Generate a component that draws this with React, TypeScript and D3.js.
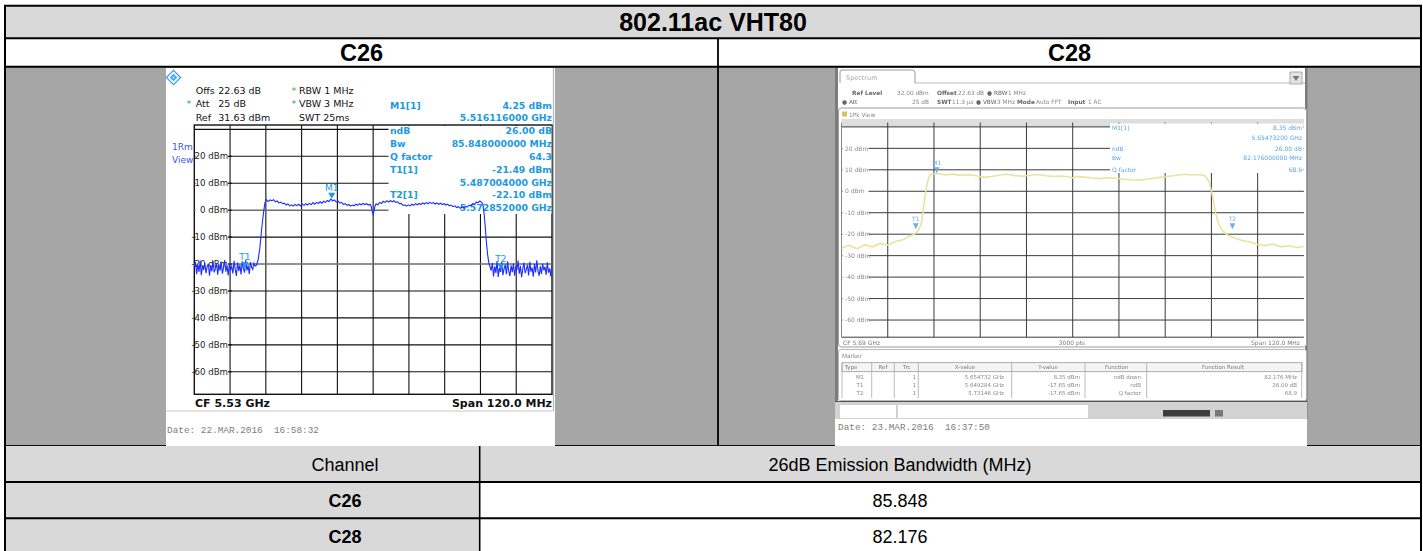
import React from 'react';
import * as d3 from 'd3';

// ---------- table text ----------
const tableTitle = '802.11ac VHT80';
const channels = ['C26', 'C28'];
const resultHeader = ['Channel', '26dB Emission Bandwidth (MHz)'];
const bandwidths = ['85.848', '82.176'];

// ---------- C26 screenshot (R&S FSV) ----------
const c26Ref = 31.63;
const c26GridLevels = [30, 20, 10, 0, -10, -20, -30, -40, -50, -60];
const c26LevelLabels = [20, 10, 0, -10, -20, -30, -40, -50, -60];
const gridFreqs = [-48, -36, -24, -12, 0, 12, 24, 36, 48];
const c26Setup = [
  { star: false, label: 'Offs', value: '22.63 dB' },
  { star: true, label: 'Att', value: '25 dB' },
  { star: false, label: 'Ref', value: '31.63 dBm' },
];
const c26Sweep = [
  { star: true, text: 'RBW 1 MHz' },
  { star: true, text: 'VBW 3 MHz' },
  { star: false, text: 'SWT 25ms' },
];
const c26InfoLabels = ['M1[1]', '', 'ndB', 'Bw', 'Q factor', 'T1[1]', '', 'T2[1]', ''];
const c26InfoValues = ['4.25 dBm', '5.516116000 GHz', '26.00 dB', '85.848000000 MHz', '64.3', '-21.49 dBm', '5.487004000 GHz', '-22.10 dBm', '5.572852000 GHz'];
const c26Markers = [
  { name: 'M1', f: -13.884, level: 4.25 },
  { name: 'T1', f: -42.996, level: -21.49 },
  { name: 'T2', f: 42.852, level: -22.1 },
];
// noise floor samples (dBm), left skirt -60..-39.6 MHz, right skirt 39.6..60 MHz
const c26NoiseLeft = [-21.5, -19.2, -23.8, -20.1, -22.9, -18.7, -24.1, -20.6, -22.2, -19.5, -23.4, -21.0, -19.9, -24.3, -20.4, -22.7, -18.9, -23.1, -21.8, -19.6, -24.0, -20.2, -22.5, -19.1, -23.6, -21.3, -18.5, -22.8, -20.7, -24.2, -19.8, -22.1, -20.9, -23.5, -18.8, -21.9, -24.4, -19.4, -22.6, -20.3, -23.9, -19.0, -21.6, -23.2, -18.4, -22.4, -20.5, -23.7, -19.3, -21.2, -22.0, -19.7, -20.8];
const c26NoiseRight = [-22.4, -19.6, -24.6, -20.9, -23.3, -18.9, -24.8, -21.4, -22.9, -19.3, -24.1, -21.7, -20.2, -23.8, -19.0, -22.6, -24.5, -20.5, -23.0, -19.8, -24.3, -21.1, -22.2, -18.7, -23.6, -20.7, -24.9, -21.9, -19.5, -23.4, -22.0, -20.3, -24.2, -19.2, -22.8, -21.3, -24.7, -20.0, -23.1, -18.6, -22.5, -24.4, -20.8, -23.7, -19.9, -22.3, -21.0, -24.0, -19.4, -23.2, -21.6, -24.6, -20.6];
// occupied band [offset MHz, dBm]
const c26Band: [number, number][] = [
  [-39.2, -20.5], [-38.6, -18.5], [-38.0, -14], [-37.5, -8], [-37.0, -3], [-36.6, 0.5], [-36.3, 2.8], [-35.8, 3.9], [-35.2, 3.2], [-34.6, 3.8], [-34.0, 3.5], [-33.4, 3.9], [-32.8, 3.1], [-32.2, 3.4], [-31.6, 2.7], [-31.0, 3.0], [-30.4, 2.4], [-29.8, 2.6], [-29.2, 1.9], [-28.6, 2.3], [-28.0, 1.6], [-27.4, 2.0], [-26.8, 1.5], [-26.2, 2.1], [-25.6, 1.7], [-25.0, 2.2], [-24.4, 1.6], [-23.8, 2.3], [-23.2, 1.8], [-22.6, 2.4], [-22.0, 1.9], [-21.4, 2.6], [-20.8, 2.0], [-20.2, 2.8], [-19.6, 2.2], [-19.0, 2.9], [-18.4, 2.5], [-17.8, 3.1], [-17.2, 2.6], [-16.6, 3.3], [-16.0, 2.9], [-15.4, 3.6], [-14.8, 3.2], [-14.2, 4.1], [-13.6, 3.5], [-13.0, 3.8], [-12.4, 3.0], [-11.8, 3.4], [-11.2, 2.6], [-10.6, 2.9], [-10.0, 2.2], [-9.4, 2.4], [-8.8, 1.8], [-8.2, 2.1], [-7.6, 1.5], [-7.0, 1.9], [-6.4, 1.6], [-5.8, 2.2], [-5.2, 1.8], [-4.6, 2.4], [-4.0, 2.0], [-3.4, 2.5], [-2.8, 2.1], [-2.2, 2.4], [-1.6, 1.9], [-1.0, 2.2], [-0.6, 1.2], [-0.3, -0.5], [0.0, -1.6], [0.3, -0.3], [0.6, 1.5], [1.0, 2.4], [1.6, 2.0], [2.2, 2.9], [2.8, 2.5], [3.4, 3.3], [4.0, 2.9], [4.6, 3.5], [5.2, 3.0], [5.8, 3.6], [6.4, 3.1], [7.0, 3.5], [7.6, 2.9], [8.2, 3.1], [8.8, 2.4], [9.4, 2.5], [10.0, 1.8], [10.6, 1.9], [11.2, 1.5], [11.8, 2.0], [12.4, 1.6], [13.0, 2.2], [13.6, 1.8], [14.2, 2.4], [14.8, 2.0], [15.4, 2.5], [16.0, 2.1], [16.6, 2.7], [17.2, 2.3], [17.8, 2.8], [18.4, 2.4], [19.0, 2.9], [19.6, 2.5], [20.2, 2.8], [20.8, 2.3], [21.4, 2.7], [22.0, 2.2], [22.6, 2.6], [23.2, 2.1], [23.8, 2.4], [24.4, 1.9], [25.0, 2.2], [25.6, 1.6], [26.2, 1.9], [26.8, 1.3], [27.4, 1.6], [28.0, 1.0], [28.6, 1.3], [29.2, 0.7], [29.8, 1.1], [30.4, 0.8], [31.0, 1.4], [31.6, 1.2], [32.2, 1.9], [32.8, 1.6], [33.4, 2.4], [34.0, 2.2], [34.6, 3.0], [35.2, 2.8], [35.8, 3.4], [36.4, 2.9], [36.8, 2.2], [37.2, -1], [37.6, -6], [38.0, -12], [38.4, -16.5], [38.8, -19.5], [39.2, -21.0],
];

// ---------- C28 screenshot (R&S FSW) ----------
const c28Ref = 32;
const c28LevelLabels = [20, 10, 0, -10, -20, -30, -40, -50, -60];
const c28Trace: [number, number][] = [
  [-60, -26.5], [-58, -25.2], [-56, -26.8], [-54, -25.0], [-52, -25.9], [-50, -24.3], [-48, -25.1], [-46, -23.4], [-44, -22.6], [-42.5, -21.0], [-41, -19.8], [-40, -18.2], [-39.2, -14.5], [-38.6, -6.0], [-38.0, 1.5], [-37.4, 6.2], [-36.8, 7.9], [-35, 8.3], [-33, 7.6], [-31, 8.0], [-29, 7.4], [-27, 7.7], [-25, 7.2], [-23, 6.5], [-21, 6.9], [-19, 7.6], [-17, 7.9], [-15, 7.3], [-13, 7.0], [-11, 7.5], [-9, 7.8], [-7, 7.2], [-5, 6.9], [-3, 7.1], [-1, 6.8], [0, 6.2], [1, 6.9], [3, 6.6], [5, 6.2], [7, 5.9], [9, 6.3], [11, 6.1], [13, 5.7], [15, 5.4], [17, 5.2], [19, 5.6], [21, 6.1], [23, 6.6], [25, 7.0], [27, 7.5], [29, 7.9], [31, 7.6], [33, 7.8], [34.5, 7.0], [35.5, 4.0], [36.3, -2.5], [37.0, -9.5], [37.8, -15.0], [38.8, -18.3], [40, -20.2], [42, -21.8], [44, -22.9], [46, -23.6], [48, -24.8], [50, -25.3], [52, -24.6], [54, -25.9], [56, -25.4], [58, -26.2], [60, -25.7],
];
const c28Markers = [
  { name: 'M1', f: -35.268, level: 8.35 },
  { name: 'T1', f: -40.716, level: -17.65 },
  { name: 'T2', f: 41.46, level: -17.65 },
];
const c28InfoLabels = ['M1[1]', '', 'ndB', 'Bw', 'Q factor'];
const c28InfoValues = ['8.35 dBm', '5.65473200 GHz', '26.00 dB', '82.176000000 MHz', '68.9'];
const c28TableHead = ['Type', 'Ref', 'Trc', 'X-value', 'Y-value', 'Function', 'Function Result'];
const c28TableRows = [
  ['M1', '', '1', '5.654732 GHz', '8.35 dBm', 'ndB down', '82.176 MHz'],
  ['T1', '', '1', '5.649284 GHz', '-17.65 dBm', 'ndB', '26.00 dB'],
  ['T2', '', '1', '5.73146 GHz', '-17.65 dBm', 'Q factor', '68.9'],
];

const SANS = '"Liberation Sans", Arial, sans-serif';
const RS = '"DejaVu Sans", Verdana, sans-serif';
const MONO = '"Liberation Mono", "DejaVu Sans Mono", monospace';
const MK = '#2199e0';

const P26 = { left: 194.3, right: 552, top: 125, bottom: 394.3 };
const P28 = { left: 841.5, right: 1303.9, top: 122.6, bottom: 337.2 };

function tri(x: number, y: number, s = 3.5) {
  return `M${x - s},${y - 6} L${x + s},${y - 6} L${x},${y} Z`;
}

function C26Panel() {
  const x = d3.scaleLinear().domain([-60, 60]).range([P26.left, P26.right]);
  const y = d3.scaleLinear().domain([c26Ref - 100, c26Ref]).range([P26.bottom, P26.top]);
  const li = d3.scaleLinear().domain([0, c26NoiseLeft.length - 1]).range([-60, -39.6]);
  const ri = d3.scaleLinear().domain([0, c26NoiseRight.length - 1]).range([39.6, 60]);
  const trace: [number, number][] = [
    ...c26NoiseLeft.map((v, i) => [li(i), v] as [number, number]),
    ...c26Band,
    ...c26NoiseRight.map((v, i) => [ri(i), v] as [number, number]),
  ];
  const line = d3.line<[number, number]>().x(d => x(d[0])).y(d => y(d[1]));
  const setupY = [94.2, 106.8, 121.2];
  const infoY = [105.5, 117.7, 130.7, 143.7, 156.5, 169.5, 182.3, 195, 207.5].map(v => v + 3.4);
  return (
    <g>
      <rect x={166} y={68} width={389} height={378} fill="#fff" />
      <line x1={553.5} y1={68} x2={553.5} y2={411} stroke="#b5b5b5" strokeWidth={1.2} />
      <line x1={166} y1={411} x2={553.5} y2={411} stroke="#c8c8c8" strokeWidth={1} />
      {/* logo */}
      <g transform="translate(173.5,77.5) rotate(45)" stroke="#39a3ea" fill="none" strokeWidth={1.3}>
        <rect x={-5} y={-5} width={10} height={10} />
        <rect x={-2} y={-2} width={4} height={4} fill="#8ccaf2" />
      </g>
      {/* setup text */}
      {c26Setup.map((s, i) => (
        <g key={s.label} fontFamily={RS} fontSize={9.5} fill="#111">
          {s.star && <text x={186.5} y={setupY[i]} fill="#22b14c">*</text>}
          <text x={195.7} y={setupY[i]}>{s.label}</text>
          <text x={218.3} y={setupY[i]}>{s.value}</text>
        </g>
      ))}
      {c26Sweep.map((s, i) => (
        <g key={s.text} fontFamily={RS} fontSize={9.5} fill="#111">
          {s.star && <text x={291.5} y={setupY[i]} fill="#22b14c">*</text>}
          <text x={299} y={setupY[i]}>{s.text}</text>
        </g>
      ))}
      <text x={172} y={150} fontFamily={RS} fontSize={9} fill="#3357ee">1Rm</text>
      <text x={172} y={162.6} fontFamily={RS} fontSize={9} fill="#3357ee">View</text>
      {/* grid */}
      <rect x={P26.left} y={P26.top} width={P26.right - P26.left} height={P26.bottom - P26.top} fill="none" stroke="#111" strokeWidth={1.4} />
      {gridFreqs.map(f => (
        <line key={f} x1={x(f)} x2={x(f)} y1={P26.top} y2={P26.bottom} stroke="#111" strokeWidth={1.1} />
      ))}
      {c26GridLevels.map(l => (
        <line key={l} x1={P26.left} x2={P26.right} y1={y(l)} y2={y(l)}
          stroke={l === 0 || l === -20 ? '#6e6e6e' : '#111'} strokeWidth={l === 0 || l === -20 ? 1.6 : 1.1} />
      ))}
      {c26LevelLabels.map(l => (
        <g key={l}>
          <rect x={195.5} y={y(l) - 5.5} width={33} height={11} fill="#fff" />
          <line x1={228} x2={232} y1={y(l)} y2={y(l)} stroke="#111" strokeWidth={1.1} />
          <text x={228} y={y(l) + 3.1} textAnchor="end" fontFamily={RS} fontSize={8.6} fill="#222">{`${l} dBm`}</text>
        </g>
      ))}
      {/* marker info box */}
      <rect x={388.5} y={126} width={163} height={88} fill="#fff" />
      {c26InfoLabels.map((t, i) => t && (
        <text key={t} x={390} y={infoY[i]} fontFamily={RS} fontWeight="bold" fontSize={9.3} fill={MK}>{t}</text>
      ))}
      {c26InfoValues.map((t, i) => (
        <text key={t} x={552} y={infoY[i]} textAnchor="end" fontFamily={RS} fontWeight="bold" fontSize={9.3} fill={MK}>{t}</text>
      ))}
      {/* trace */}
      <defs>
        <clipPath id="clip26"><rect x={P26.left} y={P26.top} width={P26.right - P26.left} height={P26.bottom - P26.top} /></clipPath>
      </defs>
      <path d={line(trace) || ''} fill="none" stroke="#1b2dff" strokeWidth={1.1} clipPath="url(#clip26)" />
      {c26Markers.map(m => (
        <g key={m.name}>
          <path d={tri(x(m.f), y(m.level))} fill={MK} />
          <text x={x(m.f)} y={y(m.level) - 8} textAnchor="middle" fontFamily={RS} fontSize={9} fill={MK}>{m.name}</text>
        </g>
      ))}
      <text x={195} y={407.3} fontFamily={RS} fontWeight="bold" fontSize={11} fill="#111">CF 5.53 GHz</text>
      <text x={552} y={407.3} textAnchor="end" fontFamily={RS} fontWeight="bold" fontSize={11} fill="#111">Span 120.0 MHz</text>
      <text x={167} y={432.6} fontFamily={MONO} fontSize={9.4} fill="#7d7d7d" style={{ whiteSpace: 'pre' }}>Date: 22.MAR.2016  16:58:32</text>
    </g>
  );
}

function C28Panel() {
  const x = d3.scaleLinear().domain([-60, 60]).range([P28.left, P28.right]);
  const y = d3.scaleLinear().domain([c28Ref - 100, c28Ref]).range([P28.bottom, P28.top]);
  const line = d3.line<[number, number]>().x(d => x(d[0])).y(d => y(d[1]));
  const colX = [842, 871.7, 894.3, 918.3, 1011.7, 1085, 1146.7, 1301.7];
  const headX = [851, 883, 906.7, 965, 1048, 1116.7, 1223];
  const rowY = [376.7, 385, 393.3];
  const infoY = [127.3, 137.3, 148.3, 157.3, 170];
  return (
    <g>
      <rect x={835} y={68} width={472} height={378} fill="#fff" />
      <defs>
        <filter id="soft" x="-5%" y="-5%" width="110%" height="110%">
          <feGaussianBlur stdDeviation={0.6} />
        </filter>
        <clipPath id="clip28"><rect x={P28.left} y={P28.top} width={P28.right - P28.left} height={P28.bottom - P28.top} /></clipPath>
      </defs>
      <g filter="url(#soft)">
        <rect x={835} y={68} width={3} height={351} fill="#7c7c7c" />
        <rect x={1305} y={68} width={2.5} height={351} fill="#7c7c7c" />
        {/* tab bar */}
        <path d="M840,83 L840,72 Q840,70 842,70 L912,70 Q915,70 915,73 L915,83" fill="#fff" stroke="#9a9a9a" strokeWidth={1} />
        <line x1={915} y1={83} x2={1305} y2={83} stroke="#b8b8b8" strokeWidth={1} />
        <text x={846} y={79.5} fontFamily={RS} fontSize={6.5} fill="#a8a8a8">Spectrum</text>
        <rect x={1290} y={72} width={12} height={12} fill="#e4e4e4" stroke="#999" strokeWidth={0.8} />
        <path d="M1292.5,76 L1299.5,76 L1296,81 Z" fill="#777" />
        {/* header */}
        <g fontFamily={RS} fontSize={5.8} fill="#888">
          <text x={852} y={94.7} fontWeight="bold" fill="#666">Ref Level</text>
          <text x={897} y={94.7}>32.00 dBm</text>
          <text x={937} y={94.7} fontWeight="bold" fill="#666">Offset</text>
          <text x={958} y={94.7}>22.63 dB</text>
          <text x={987} y={94.7} fill="#666">● RBW</text>
          <text x={1008} y={94.7}>1 MHz</text>
          <text x={842} y={103.7} fill="#666">● Att</text>
          <text x={912} y={103.7}>25 dB</text>
          <text x={937} y={103.7} fontWeight="bold" fill="#666">SWT</text>
          <text x={952} y={103.7}>11.3 µs</text>
          <text x={976} y={103.7} fill="#666">● VBW</text>
          <text x={997} y={103.7}>3 MHz</text>
          <text x={1017} y={103.7} fontWeight="bold" fill="#666">Mode</text>
          <text x={1036} y={103.7}>Auto FFT</text>
          <text x={1068} y={103.7} fontWeight="bold" fill="#666">Input</text>
          <text x={1088} y={103.7}>1 AC</text>
        </g>
        <rect x={838.5} y={108} width={468} height={239} rx={3} fill="#fff" stroke="#9c9c9c" strokeWidth={1} />
        <rect x={842} y={111.5} width={5} height={5} fill="#d6c55a" />
        <text x={849} y={117} fontFamily={RS} fontSize={5.8} fill="#888">1Pk View</text>
        <rect x={P28.left} y={119} width={P28.right - P28.left} height={8} fill="#dedede" />
        {/* grid */}
        {gridFreqs.map(f => (
          <line key={f} x1={x(f)} x2={x(f)} y1={P28.top} y2={P28.bottom} stroke="#3a3a3a" strokeWidth={1} />
        ))}
        {[30, ...c28LevelLabels].map(l => (
          <line key={l} x1={P28.left} x2={P28.right} y1={y(l)} y2={y(l)} stroke="#3a3a3a" strokeWidth={1} />
        ))}
        <line x1={P28.left} x2={P28.right} y1={P28.bottom} y2={P28.bottom} stroke="#3a3a3a" strokeWidth={1} />
        <line x1={P28.left} x2={P28.left} y1={P28.top} y2={P28.bottom} stroke="#888" strokeWidth={1} />
        {c28LevelLabels.map(l => (
          <g key={l}>
            <rect x={842.5} y={y(l) - 4} width={26} height={8} fill="#fff" />
            <text x={845} y={y(l) + 2.2} fontFamily={RS} fontSize={6} fill="#8a8a8a">{`${l} dBm`}</text>
          </g>
        ))}
        <rect x={1110} y={123.5} width={193.5} height={49.5} fill="#fff" />
        {c28InfoLabels.map((t, i) => t && (
          <text key={t} x={1112} y={infoY[i] + 2.2} fontFamily={RS} fontSize={6} fill="#5aa6e6">{t}</text>
        ))}
        {c28InfoValues.map((t, i) => (
          <text key={t} x={1302} y={infoY[i] + 2.2} textAnchor="end" fontFamily={RS} fontSize={6} fill="#5aa6e6">{t}</text>
        ))}
        <path d={line(c28Trace) || ''} fill="none" stroke="#ebe2a0" strokeWidth={1.6} clipPath="url(#clip28)" />
        {c28Markers.map(m => (
          <g key={m.name}>
            <path d={tri(x(m.f), y(m.level), 2.8)} fill="#6aaee6" />
            <text x={x(m.f)} y={y(m.level) - 8} textAnchor="middle" fontFamily={RS} fontSize={6} fill="#6aaee6">{m.name}</text>
          </g>
        ))}
        <g fontFamily={RS} fontSize={6} fill="#7a7a7a">
          <text x={843} y={345.3}>CF 5.69 GHz</text>
          <text x={1072} y={345.3} textAnchor="middle">3000 pts</text>
          <text x={1300} y={345.3} textAnchor="end">Span 120.0 MHz</text>
        </g>
        {/* marker table */}
        <rect x={838.5} y={349.5} width={468} height={51} rx={2} fill="#fff" stroke="#a8a8a8" strokeWidth={0.8} />
        <text x={842} y={358} fontFamily={RS} fontSize={5.8} fill="#888">Marker</text>
        <rect x={842} y={362.7} width={460} height={9} fill="#f4f4f4" stroke="#999" strokeWidth={0.8} />
        {colX.map(cx => (
          <line key={cx} x1={cx} x2={cx} y1={362.7} y2={398} stroke="#aaa" strokeWidth={0.8} />
        ))}
        {c28TableHead.map((h, i) => (
          <text key={h} x={headX[i]} y={369.3} textAnchor="middle" fontFamily={RS} fontSize={5.5} fill="#7a7a7a">{h}</text>
        ))}
        {c28TableRows.map((r, ri) => (
          <g key={r[0]} fontFamily={RS} fontSize={5.5} fill="#8a8a8a">
            <text x={860} y={rowY[ri] + 2} textAnchor="middle">{r[0]}</text>
            <text x={916} y={rowY[ri] + 2} textAnchor="end">{r[2]}</text>
            <text x={1004} y={rowY[ri] + 2} textAnchor="end">{r[3]}</text>
            <text x={1080} y={rowY[ri] + 2} textAnchor="end">{r[4]}</text>
            <text x={1141} y={rowY[ri] + 2} textAnchor="end">{r[5]}</text>
            <text x={1297} y={rowY[ri] + 2} textAnchor="end">{r[6]}</text>
          </g>
        ))}
        {/* status bar */}
        <rect x={835} y={401} width={472} height={18} fill="#d2d2d2" />
        <line x1={835} x2={1307} y1={401.5} y2={401.5} stroke="#555" strokeWidth={1.2} />
        <rect x={840} y={405} width={56} height={13} fill="#fff" />
        <rect x={898} y={405} width={190} height={13} fill="#fff" />
        <rect x={1163} y={410} width={47} height={6.5} fill="#3e3e3e" />
        <rect x={1215} y={410} width={8} height={6.5} fill="#777" />
      </g>
      <text x={838} y={429.8} fontFamily={MONO} fontSize={9.4} fill="#7d7d7d" style={{ whiteSpace: 'pre' }}>Date: 23.MAR.2016  16:37:50</text>
    </g>
  );
}

export default function App() {
  const L = 5, R = 1421, split = 718, split2 = 479.7;
  // text centres of the result table
  const lc = 345, rc = 900;
  return (
    <svg width={1423} height={551} style={{ position: 'absolute', left: 0, top: 0, background: '#fff' }}>
      {/* row backgrounds */}
      <rect x={L} y={5.5} width={R - L} height={33} fill="#d9d9d9" />
      <rect x={L} y={38.3} width={R - L} height={28.5} fill="#fff" />
      <rect x={L} y={66.8} width={R - L} height={379} fill="#a6a6a6" />
      <rect x={L} y={446} width={R - L} height={36} fill="#d9d9d9" />
      <rect x={L} y={482} width={split2 - L} height={69} fill="#d9d9d9" />
      <line x1={L} x2={R} y1={445.5} y2={445.5} stroke="#111" strokeWidth={1} />
      <C26Panel />
      <C28Panel />
      {/* borders */}
      <g stroke="#000" fill="none">
        <line x1={L - 1} x2={R + 1} y1={5.8} y2={5.8} strokeWidth={2} />
        <line x1={L} x2={L} y1={5} y2={551} strokeWidth={2} />
        <line x1={R} x2={R} y1={5} y2={551} strokeWidth={2} />
        <line x1={L} x2={R} y1={38.3} y2={38.3} strokeWidth={2} />
        <line x1={L} x2={R} y1={66.8} y2={66.8} strokeWidth={2} />
        <line x1={split} x2={split} y1={38.3} y2={445.5} strokeWidth={1.8} />
        <line x1={L} x2={R} y1={482} y2={482} strokeWidth={2} />
        <line x1={L} x2={R} y1={518.2} y2={518.2} strokeWidth={2} />
        <line x1={split2} x2={split2} y1={446} y2={551} strokeWidth={1.6} />
      </g>
      {/* text */}
      <text x={(L + R) / 2} y={31} textAnchor="middle" fontFamily={SANS} fontWeight="bold" fontSize={25} fill="#000">{tableTitle}</text>
      {channels.map((c, i) => (
        <text key={c} x={i === 0 ? (L + split) / 2 : (split + R) / 2} y={60.7} textAnchor="middle" fontFamily={SANS} fontWeight="bold" fontSize={23.5} fill="#000">{c}</text>
      ))}
      <text x={lc} y={470.5} textAnchor="middle" fontFamily={SANS} fontSize={18} fill="#000">{resultHeader[0]}</text>
      <text x={rc} y={470.5} textAnchor="middle" fontFamily={SANS} fontSize={18} fill="#000">{resultHeader[1]}</text>
      {channels.map((c, i) => (
        <g key={c}>
          <text x={lc} y={507 + i * 36} textAnchor="middle" fontFamily={SANS} fontWeight="bold" fontSize={18} fill="#000">{c}</text>
          <text x={rc} y={507 + i * 36} textAnchor="middle" fontFamily={SANS} fontSize={18} fill="#000">{bandwidths[i]}</text>
        </g>
      ))}
    </svg>
  );
}
